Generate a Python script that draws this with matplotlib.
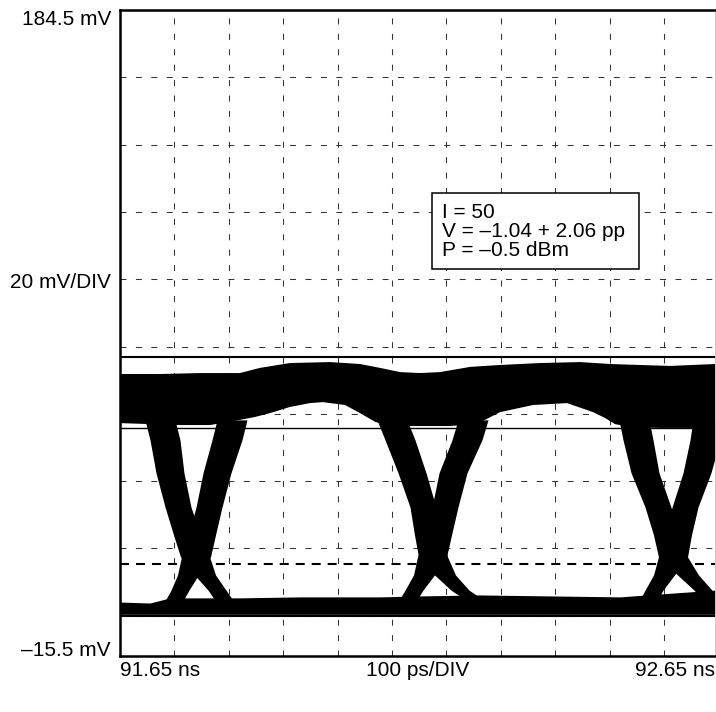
import matplotlib
matplotlib.use("Agg")
import matplotlib.pyplot as plt
import numpy as np
from matplotlib.patches import Rectangle

plt.rcParams['font.family'] = ['Liberation Sans', 'DejaVu Sans']
plt.rcParams['lines.scale_dashes'] = False

# ---------------- data (time: ps after 91.65 ns, voltage: mV) ----------------
X_RANGE_PS = [0, 1000]
Y_RANGE_MV = [-15.5, 184.5]

X_LABELS = ["91.65 ns", "100 ps/DIV", "92.65 ns"]
X_LABEL_POS_PS = [0, 500, 1000]
Y_LABELS = ["184.5 mV", "20 mV/DIV", "\u201315.5 mV"]
Y_LABEL_POS_MV = [179.9, 98.4, -15.5]

GRID_X_PS = [91.4, 182.9, 274.3, 365.7, 457.1, 548.6, 640.0, 731.4, 822.9, 914.3]
GRID_Y_MV = [163.7, 142.8, 122.0, 101.1, 80.3, 59.5, 38.6, 17.8, -3.1]

REF_LINES_MV = [77.1, 55.1, -3.1]
REF_LINE_WIDTHS = [1.5, 1.0, 1.5]
THRESHOLD_MV = 13.0

INFO_LINES = ["I = 50", "V = \u20131.04 + 2.06 pp", "P = \u20130.5 dBm"]
INFO_BASELINES_MV = [120.0, 114.1, 108.3]
INFO_TEXT_X_PS = 540.6
INFO_BOX_PS = [524.4, 872.3]
INFO_BOX_MV = [104.3, 127.8]

# "one" level band
TOP_UPPER_X = [0, 67.2, 134.5, 201.7, 235.3, 285.7, 352.9, 403.4, 437.0, 470.6,
               504.2, 537.8, 588.2, 638.7, 705.9, 773.1, 823.5, 873.9, 924.4, 1000]
TOP_UPPER_MV = [71.8, 71.8, 72.1, 72.1, 73.7, 75.2, 75.5, 74.9, 73.7, 72.4,
                72.1, 72.4, 74.0, 74.6, 75.2, 75.5, 74.9, 74.6, 74.3, 74.9]
TOP_LOWER_X = [0, 50.4, 100.8, 151.3, 201.7, 226.9, 252.1, 285.7, 319.3, 341.2,
               378.2, 403.4, 428.6, 453.8, 504.2, 554.6, 596.6, 613.4, 638.7, 694.1,
               751.3, 795.0, 815.1, 831.9, 857.1, 907.6, 958.0, 1000]
TOP_LOWER_MV = [56.6, 56.3, 56.0, 56.0, 57.6, 58.5, 59.7, 61.6, 62.8, 63.1,
                62.2, 59.7, 57.0, 55.7, 55.7, 55.7, 56.3, 57.6, 60.0, 62.2,
                62.8, 60.0, 58.2, 56.3, 55.4, 55.1, 55.1, 55.7]

# "zero" level band
BOT_X = [0, 50.4, 84.0, 201.7, 302.5, 437.0, 504.2, 605.0, 722.7, 840.3, 907.6, 1000]
BOT_UPPER_MV = [1.2, 0.9, 2.5, 2.5, 2.8, 2.8, 3.1, 3.4, 3.1, 2.8, 3.7, 4.9]
BOT_LOWER_MV = [-2.6, -2.6, -2.6, -2.6, -2.6, -2.6, -2.6, -2.6, -2.6, -2.6, -2.6, -2.6]

# transition arms (centre time at each voltage level)
ARM_LEVELS_MV = [57.6, 51.4, 41.2, 30.6, 22.0, 15.2, 9.6, 4.9, 0.3]
ARM_HALF_WIDTH_PS = [25.2, 25.2, 23.5, 21.8, 22.7, 24.4, 17.6, 15.1, 15.1]
X1_FALL_PS = [67.2, 75.6, 84.0, 97.5, 112.6, 126.1, 142.9, 163.0, 180.0]
X1_RISE_PS = [188.2, 179.8, 163.0, 149.6, 137.8, 127.7, 114.3, 100.8, 87.0]
X2_FALL_PS = [457.1, 470.6, 490.8, 509.2, 517.6, 526.1, 546.2, 571.4, 608.4]
X2_RISE_PS = [593.3, 583.2, 559.7, 546.2, 534.5, 524.4, 510.9, 494.1, 479.0]
X3_FALL_PS = [863.9, 870.6, 882.4, 904.2, 919.3, 929.4, 954.6, 979.8, 1001.7]
X3_RISE_PS = [988.2, 983.2, 969.7, 949.6, 937.8, 929.4, 914.3, 897.5, 884.0]
ARMS = [X1_FALL_PS, X1_RISE_PS, X2_FALL_PS, X2_RISE_PS, X3_FALL_PS, X3_RISE_PS]

# ---------------- figure ----------------
W, H = 716, 712
fig = plt.figure(figsize=(W / 100, H / 100), dpi=100)
ax = fig.add_axes([120 / W, 56 / H, 595 / W, 646 / H])
ax.set_xlim(*X_RANGE_PS)
ax.set_ylim(*Y_RANGE_MV)
ax.set_xticks([])
ax.set_yticks([])

grid_kw = dict(color='#333333', lw=0.75, ls=(0, (4.3, 6.8)), zorder=1)
for gx in GRID_X_PS:
    ax.axvline(gx, **grid_kw)
for gy in GRID_Y_MV:
    ax.axhline(gy, **grid_kw)

ink = 'black'
# one level
ax.fill(np.concatenate([TOP_UPPER_X, TOP_LOWER_X[::-1]]),
        np.concatenate([TOP_UPPER_MV, TOP_LOWER_MV[::-1]]),
        color=ink, lw=0, zorder=2)
# zero level
ax.fill_between(BOT_X, BOT_LOWER_MV, BOT_UPPER_MV, color=ink, lw=0, zorder=2)
# transitions
hw = np.array(ARM_HALF_WIDTH_PS)
for arm in ARMS:
    c = np.array(arm)
    ax.fill_betweenx(ARM_LEVELS_MV, c - hw, c + hw, color=ink, lw=0, zorder=2)

for y, lw in zip(REF_LINES_MV, REF_LINE_WIDTHS):
    ax.axhline(y, color=ink, lw=lw, zorder=3)
ax.axhline(THRESHOLD_MV, color=ink, lw=1.5, ls=(0, (6.5, 5.0)), zorder=3)

# info box
ax.add_patch(Rectangle((INFO_BOX_PS[0], INFO_BOX_MV[0]),
                       INFO_BOX_PS[1] - INFO_BOX_PS[0], INFO_BOX_MV[1] - INFO_BOX_MV[0],
                       facecolor='white', edgecolor=ink, lw=1.1, zorder=5))
for line, yb in zip(INFO_LINES, INFO_BASELINES_MV):
    ax.text(INFO_TEXT_X_PS, yb, line, fontsize=15, ha='left', va='baseline',
            color=ink, zorder=6)

# spines
for s in ['left', 'top', 'bottom']:
    ax.spines[s].set_linewidth(1.8)
    ax.spines[s].set_color(ink)
    ax.spines[s].set_zorder(7)
ax.spines['right'].set_linewidth(0.7)
ax.spines['right'].set_color('#c8c8c8')

# axis labels
for lab, y in zip(Y_LABELS, Y_LABEL_POS_MV):
    ax.annotate(lab, xy=(0, y), xycoords=('axes fraction', 'data'),
                xytext=(-9, 0), textcoords='offset pixels',
                ha='right', va='baseline', fontsize=15, color=ink,
                annotation_clip=False)
for lab, x, ha in zip(X_LABELS, X_LABEL_POS_PS, ['left', 'center', 'right']):
    ax.annotate(lab, xy=(x, 0), xycoords=('data', 'axes fraction'),
                xytext=(0, -19.5), textcoords='offset pixels',
                ha=ha, va='baseline', fontsize=15, color=ink,
                annotation_clip=False)

fig.savefig('out.png', dpi=100)
